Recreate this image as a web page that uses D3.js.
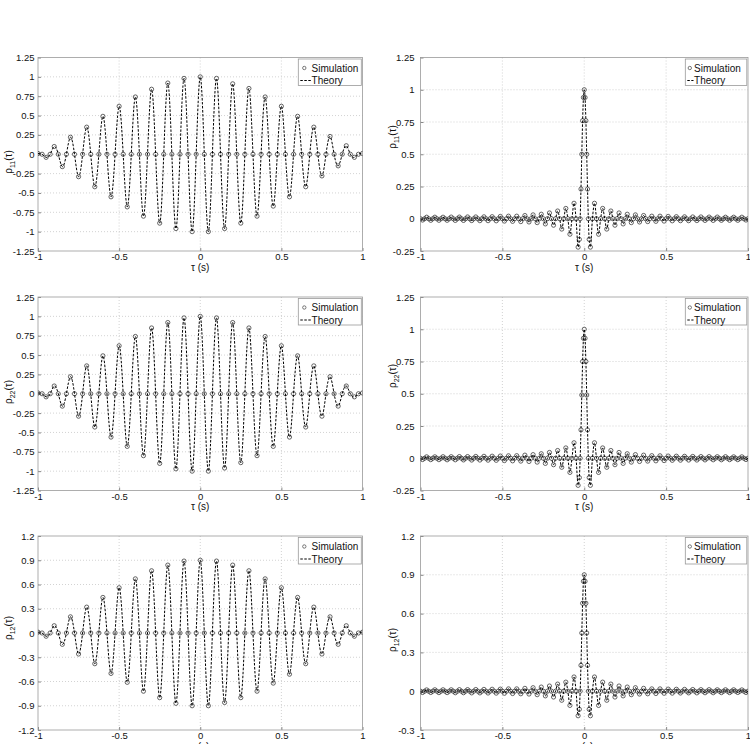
<!DOCTYPE html>
<html>
<head>
<meta charset="utf-8">
<script src="https://cdn.jsdelivr.net/npm/d3@7"></script>
<style>
  body { margin: 0; background: #fff; }
  svg { display: block; font-family: "Liberation Sans", Arial, Helvetica, sans-serif; }
</style>
</head>
<body>
<div id="chart"></div>
<script>
// sampling instants (s) for the two kinds of panel
var tauLeft = d3.range(-40, 41).map(function (i) { return i * 0.025; });
var tauRight = d3.range(-80, -2).map(function (i) { return i * 0.0125; })
  .concat(d3.range(-6, 7).map(function (i) { return i * 0.005; }))
  .concat(d3.range(3, 81).map(function (i) { return i * 0.0125; }));

// left column: extrema and zero crossings
var rho11Left = [0.01,0,-0.04,0,0.10,0,-0.16,0,0.22,0,-0.29,0,0.35,0,-0.42,0,0.49,0,-0.55,0,
  0.62,0,-0.68,0,0.74,0,-0.80,0,0.84,0,-0.89,0,0.92,0,-0.96,0,0.98,0,-1.00,0,1.00,
  0,-1.00,0,0.98,0,-0.96,0,0.91,0,-0.89,0,0.85,0,-0.80,0,0.74,0,-0.67,0,0.62,
  0,-0.55,0,0.49,0,-0.42,0,0.35,0,-0.28,0,0.23,0,-0.15,0,0.11,0,-0.04,0,0.01];
var rho22Left = [0.01,0,-0.04,0,0.10,0,-0.16,0,0.22,0,-0.29,0,0.36,0,-0.43,0,0.49,0,-0.56,0,
  0.62,0,-0.68,0,0.74,0,-0.80,0,0.85,0,-0.90,0,0.92,0,-0.97,0,0.98,0,-1.00,0,1.00,
  0,-1.00,0,0.98,0,-0.96,0,0.92,0,-0.89,0,0.85,0,-0.80,0,0.74,0,-0.68,0,0.62,
  0,-0.56,0,0.49,0,-0.43,0,0.36,0,-0.29,0,0.22,0,-0.16,0,0.10,0,-0.04,0,0.01];
var rho12Left = [0.01,0,-0.04,0,0.09,0,-0.14,0,0.20,0,-0.26,0,0.32,0,-0.38,0,0.44,0,-0.50,0,
  0.56,0,-0.61,0,0.67,0,-0.72,0,0.77,0,-0.80,0,0.84,0,-0.87,0,0.89,0,-0.90,0,0.90,
  0,-0.90,0,0.89,0,-0.86,0,0.84,0,-0.80,0,0.77,0,-0.72,0,0.67,0,-0.62,0,0.56,
  0,-0.51,0,0.44,0,-0.38,0,0.32,0,-0.26,0,0.20,0,-0.14,0,0.09,0,-0.04,0,0.01];

// right column
var rho11Right = [0,-0.01,0,0.012,0,-0.012,0,0.012,0,-0.012,0,0.012,0,-0.012,0,0.013,0,-0.013,0,0.013,
  0,-0.013,0,0.014,0,-0.014,0,0.014,0,-0.015,0,0.015,0,-0.015,0,0.016,0,-0.016,0,0.018,
  0,-0.018,0,0.02,0,-0.02,0,0.02,0,-0.022,0,0.025,0,-0.025,0,0.03,0,-0.03,0,0.035,
  0,-0.04,0,0.045,0,-0.05,0,0.06,0,-0.08,0,0.08,0,-0.12,0,0.12,0,-0.22,
  -0.16,0,0.23,0.5,0.76,0.94,1,0.94,0.76,0.5,0.23,0,-0.16,
  -0.22,0,0.12,0,-0.12,0,0.08,0,-0.08,0,0.06,0,-0.05,0,0.045,0,-0.04,0,0.035,0,
  -0.03,0,0.03,0,-0.025,0,0.025,0,-0.022,0,0.02,0,-0.02,0,0.02,0,-0.018,0,0.018,0,
  -0.016,0,0.016,0,-0.015,0,0.015,0,-0.015,0,0.014,0,-0.014,0,0.014,0,-0.013,0,0.013,0,
  -0.013,0,0.013,0,-0.012,0,0.012,0,-0.012,0,0.012,0,-0.012,0,0.012,0,-0.01,0];
var rho22Right = [0,-0.01,0,0.011,0,-0.011,0,0.011,0,-0.011,0,0.012,0,-0.012,0,0.012,0,-0.012,0,0.013,
  0,-0.013,0,0.013,0,-0.014,0,0.014,0,-0.014,0,0.015,0,-0.015,0,0.016,0,-0.016,0,0.017,
  0,-0.018,0,0.019,0,-0.02,0,0.02,0,-0.022,0,0.024,0,-0.025,0,0.028,0,-0.03,0,0.035,
  0,-0.04,0,0.045,0,-0.05,0,0.06,0,-0.07,0,0.08,0,-0.11,0,0.12,0,-0.21,
  -0.15,0,0.22,0.49,0.75,0.93,1,0.93,0.75,0.49,0.22,0,-0.15,
  -0.21,0,0.12,0,-0.11,0,0.08,0,-0.07,0,0.06,0,-0.05,0,0.045,0,-0.04,0,0.035,0,
  -0.03,0,0.028,0,-0.025,0,0.024,0,-0.022,0,0.02,0,-0.02,0,0.019,0,-0.018,0,0.017,0,
  -0.016,0,0.016,0,-0.015,0,0.015,0,-0.014,0,0.014,0,-0.014,0,0.013,0,-0.013,0,0.013,0,
  -0.012,0,0.012,0,-0.012,0,0.012,0,-0.011,0,0.011,0,-0.011,0,0.011,0,-0.01,0];
var rho12Right = [0,-0.01,0,0.01,0,-0.01,0,0.011,0,-0.011,0,0.011,0,-0.011,0,0.011,0,-0.012,0,0.012,
  0,-0.012,0,0.012,0,-0.013,0,0.013,0,-0.013,0,0.014,0,-0.014,0,0.015,0,-0.015,0,0.016,
  0,-0.016,0,0.018,0,-0.018,0,0.018,0,-0.02,0,0.022,0,-0.022,0,0.027,0,-0.027,0,0.032,
  0,-0.036,0,0.04,0,-0.045,0,0.055,0,-0.07,0,0.07,0,-0.11,0,0.11,0,-0.19,
  -0.14,0,0.2,0.45,0.68,0.85,0.9,0.85,0.68,0.45,0.2,0,-0.14,
  -0.19,0,0.11,0,-0.11,0,0.07,0,-0.07,0,0.055,0,-0.045,0,0.04,0,-0.036,0,0.032,0,
  -0.027,0,0.027,0,-0.022,0,0.022,0,-0.02,0,0.018,0,-0.018,0,0.018,0,-0.016,0,0.016,0,
  -0.015,0,0.015,0,-0.014,0,0.014,0,-0.013,0,0.013,0,-0.013,0,0.012,0,-0.012,0,0.012,0,
  -0.012,0,0.011,0,-0.011,0,0.011,0,-0.011,0,0.011,0,-0.01,0,0.01,0,-0.01,0];

// ticks
var xTicks = [-1, -0.5, 0, 0.5, 1];
var yTicksWide = [-1.25, -1, -0.75, -0.5, -0.25, 0, 0.25, 0.5, 0.75, 1, 1.25];
var yTicksPeak = [-0.25, 0, 0.25, 0.5, 0.75, 1, 1.25];
var yTicksCrossWide = [-1.2, -0.9, -0.6, -0.3, 0, 0.3, 0.6, 0.9, 1.2];
var yTicksCrossPeak = [-0.3, 0, 0.3, 0.6, 0.9, 1.2];

var width = 750, height = 744;
var cols = [[38, 362.5], [420.5, 748]];
var rows = [[57.5, 251], [297, 490.5], [536, 730]];
var labelY = [[162, 137], [392, 376], [628, 640]];

var panels = [
  {row: 0, col: 0, sub: '11', tau: tauLeft, vals: rho11Left, yDom: [-1.25, 1.25], yTicks: yTicksWide},
  {row: 0, col: 1, sub: '11', tau: tauRight, vals: rho11Right, yDom: [-0.25, 1.25], yTicks: yTicksPeak},
  {row: 1, col: 0, sub: '22', tau: tauLeft, vals: rho22Left, yDom: [-1.25, 1.25], yTicks: yTicksWide},
  {row: 1, col: 1, sub: '22', tau: tauRight, vals: rho22Right, yDom: [-0.25, 1.25], yTicks: yTicksPeak},
  {row: 2, col: 0, sub: '12', tau: tauLeft, vals: rho12Left, yDom: [-1.2, 1.2], yTicks: yTicksCrossWide},
  {row: 2, col: 1, sub: '12', tau: tauRight, vals: rho12Right, yDom: [-0.3, 1.2], yTicks: yTicksCrossPeak}
];

var svg = d3.select('#chart').append('svg')
  .attr('width', width).attr('height', height);

function drawPanel(p, idx) {
  var x0 = cols[p.col][0], x1 = cols[p.col][1];
  var y0 = rows[p.row][0], y1 = rows[p.row][1];
  var x = d3.scaleLinear().domain([-1, 1]).range([x0, x1]);
  var y = d3.scaleLinear().domain(p.yDom).range([y1, y0]);
  var g = svg.append('g');

  g.append('clipPath').attr('id', 'clip' + idx)
    .append('rect').attr('x', x0).attr('y', y0).attr('width', x1 - x0).attr('height', y1 - y0);

  // dotted grid
  g.selectAll('.gx').data(xTicks.slice(1, -1)).join('line')
    .attr('x1', function (d) { return x(d); }).attr('x2', function (d) { return x(d); })
    .attr('y1', y0).attr('y2', y1)
    .attr('stroke', '#c8c8c8').attr('stroke-width', 0.8).attr('stroke-dasharray', '1,2');
  g.selectAll('.gy').data(p.yTicks.slice(1, -1)).join('line')
    .attr('y1', function (d) { return y(d); }).attr('y2', function (d) { return y(d); })
    .attr('x1', x0).attr('x2', x1)
    .attr('stroke', '#c8c8c8').attr('stroke-width', 0.8).attr('stroke-dasharray', '1,2');

  // axes
  var xa = g.append('g').attr('transform', 'translate(0,' + y1 + ')')
    .call(d3.axisBottom(x).tickValues(xTicks).tickSize(-3).tickPadding(2.5)
      .tickFormat(function (d) { return String(d); }));
  var ya = g.append('g').attr('transform', 'translate(' + x0 + ',0)')
    .call(d3.axisLeft(y).tickValues(p.yTicks).tickSize(-3).tickPadding(p.col === 0 ? 3.5 : 6)
      .tickFormat(function (d) { return String(d); }));
  [xa, ya].forEach(function (a) {
    a.select('.domain').remove();
    a.selectAll('line').attr('stroke', '#888');
    a.selectAll('text').attr('fill', '#111').style('font-size', '9.5px')
      .style('font-family', '"Liberation Sans", Arial, sans-serif');
  });

  g.append('rect').attr('x', x0).attr('y', y0)
    .attr('width', x1 - x0).attr('height', y1 - y0)
    .attr('fill', 'none').attr('stroke', '#999').attr('stroke-width', 0.8);

  var plot = g.append('g').attr('clip-path', 'url(#clip' + idx + ')');

  // simulation markers
  plot.selectAll('circle').data(p.vals).join('circle')
    .attr('cx', function (d, i) { return x(p.tau[i]); })
    .attr('cy', function (d) { return y(d); })
    .attr('r', 2.1)
    .attr('fill', 'none').attr('stroke', '#333').attr('stroke-width', 0.75);

  // theory line
  var line = d3.line()
    .x(function (d, i) { return x(p.tau[i]); })
    .y(function (d) { return y(d); })
    .curve(p.col === 0 ? d3.curveNatural : d3.curveMonotoneX);
  plot.append('path').datum(p.vals).attr('d', line)
    .attr('fill', 'none').attr('stroke', '#000').attr('stroke-width', 1)
    .attr('stroke-dasharray', '2.5,1.5');

  // labels
  g.append('text').attr('x', (x0 + x1) / 2).attr('y', y1 + 19.5)
    .attr('text-anchor', 'middle').style('font-size', '10px').attr('fill', '#111')
    .text('\u03c4 (s)');

  var lx = p.col === 0 ? 11.5 : 396, ly = labelY[p.row][p.col];
  var yl = g.append('text').attr('transform', 'translate(' + lx + ',' + ly + ') rotate(-90)')
    .attr('text-anchor', 'middle').style('font-size', '10px').attr('fill', '#111');
  yl.append('tspan').text('\u03c1');
  yl.append('tspan').attr('dy', 3).style('font-size', '7px').text(p.sub);
  yl.append('tspan').attr('dy', -3).text('(\u03c4)');

  // legend
  var lw = p.col === 0 ? 63 : 61.5;
  var bx = x1 - lw - 1.2, by = y0 + 1.5;
  var mOff = p.col === 0 ? 6 : 4.5, tOff = p.col === 0 ? 13.3 : 8.8;
  var lg = g.append('g');
  lg.append('rect').attr('x', bx).attr('y', by).attr('width', lw).attr('height', 26.5)
    .attr('fill', '#fff').attr('stroke', '#999').attr('stroke-width', 0.8);
  lg.append('circle').attr('cx', bx + mOff).attr('cy', by + 9)
    .attr('r', 1.7).attr('fill', 'none').attr('stroke', '#444').attr('stroke-width', 0.7);
  lg.append('text').attr('x', bx + tOff).attr('y', by + 12.5)
    .style('font-size', '10px').attr('fill', '#111').text('Simulation');
  lg.append('line').attr('x1', bx + 2).attr('x2', bx + tOff - 0.6)
    .attr('y1', by + 21.5).attr('y2', by + 21.5)
    .attr('stroke', '#000').attr('stroke-width', 1).attr('stroke-dasharray', '2.5,1.5');
  lg.append('text').attr('x', bx + tOff).attr('y', by + 25)
    .style('font-size', '10px').attr('fill', '#111').text('Theory');
}

panels.forEach(drawPanel);
</script>
</body>
</html>
